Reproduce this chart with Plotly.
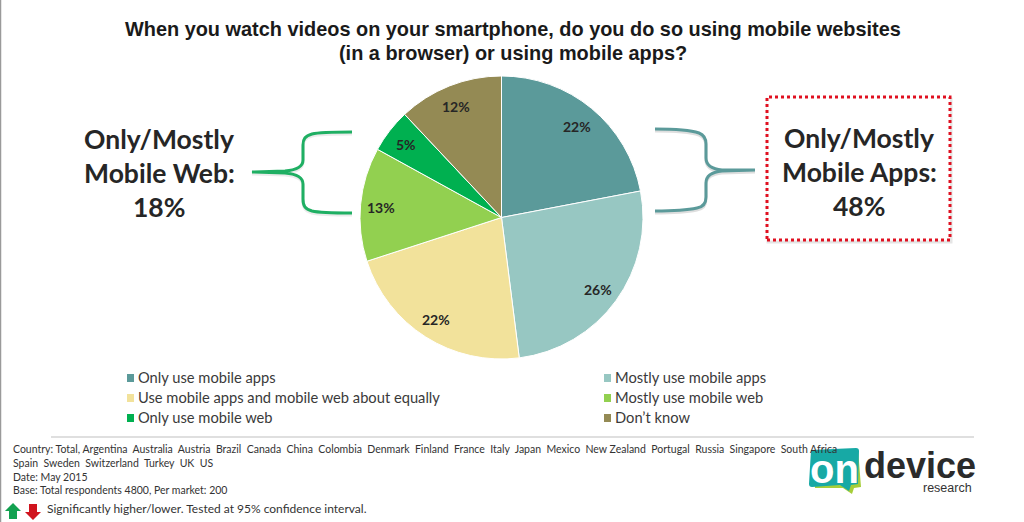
import math
import plotly.graph_objects as go

W, H = 1024, 522
categories = ["Only use mobile apps", "Mostly use mobile apps",
              "Use mobile apps and mobile web about equally", "Mostly use mobile web",
              "Only use mobile web", "Don’t know"]
values = [22, 26, 22, 13, 5, 12]
colors = ["#5B9A9A", "#97C7C2", "#F2E29B", "#92D050", "#00B050", "#948A54"]
title_lines = ["When you watch videos on your smartphone, do you do so using mobile websites",
               "(in a browser) or using mobile apps?"]
left_call = ["Only/Mostly", "Mobile Web:", "18%"]
right_call = ["Only/Mostly", "Mobile Apps:", "48%"]
NB = "\u00a0\u00a0"
countries = ["Argentina", "Australia", "Austria", "Brazil", "Canada", "China", "Colombia", "Denmark",
             "Finland", "France", "Italy", "Japan", "Mexico", "New Zealand", "Portugal", "Russia",
             "Singapore", "South Africa"]
countries2 = ["Spain", "Sweden", "Switzerland", "Turkey", "UK", "US"]
footer = ["Country: Total, " + NB.join(countries), NB.join(countries2), "Date: May 2015",
          "Base: Total respondents 4800, Per market: 200"]
sig_note = "Significantly higher/lower. Tested at 95% confidence interval."


def fx(px): return px / W
def fy(py): return 1 - py / H


def path(d, dy=0):
    out, is_x = [], True
    for tok in d.split():
        if tok.isalpha():
            out.append(tok)
        else:
            v = float(tok)
            out.append(f"{fx(v):.5f}" if is_x else f"{fy(v + dy):.5f}")
            is_x = not is_x
    return " ".join(out)


def pshape(d, color=None, width=0, fill=None, dy=0):
    s = dict(type="path", xref="paper", yref="paper", path=path(d, dy), line=dict(width=width))
    if color: s["line"]["color"] = color
    if fill: s["fillcolor"] = fill
    return s


def text(x, y, t, size, color="#262626", family="Lato", anchor="center", bold=False):
    return dict(x=fx(x), y=fy(y), xref="paper", yref="paper", text=f"<b>{t}</b>" if bold else t,
                showarrow=False, xanchor=anchor, yanchor="middle",
                font=dict(size=size, color=color, family=family))


CX, CY, R = 501.5, 217.5, 141.5
fig = go.Figure(go.Pie(
    labels=categories, values=values, sort=False, direction="clockwise", rotation=0,
    marker=dict(colors=colors, line=dict(color="white", width=1)),
    textinfo="none",
    domain=dict(x=[fx(CX - R), fx(CX + R)], y=[fy(CY + R), fy(CY - R)]), hoverinfo="label+percent",
))

shapes = []
shapes.append(dict(type="line", xref="paper", yref="paper", x0=fx(0.5), x1=fx(0.5), y0=0, y1=1,
                   line=dict(color="#9a9a9a", width=1.5)))
shapes.append(dict(type="line", xref="paper", yref="paper", x0=fx(51), x1=fx(974), y0=fy(437), y1=fy(437),
                   line=dict(color="#d4d4d4", width=1.5)))
right = ("M 655 129 C 675 129 690 130 699 133 C 704 135 706 138 706 144 L 706 158 "
         "C 706 166 712 169 722 170 L 755 170 L 722 171 C 712 172 706 175 706 183 L 706 197 "
         "C 706 204 703 207 697 208 C 688 210 672 211 655 211")
left = ("M 352 132 C 335 132 320 132 312 134 C 305 136 303 139 303 145 L 303 160 "
        "C 303 167 297 170 285 171 L 252 172 L 285 173 C 297 174 303 177 303 184 L 303 199 "
        "C 303 206 305 209 312 211 C 320 213 335 213 352 213")
shapes.append(pshape(right, "rgba(0,0,0,0.13)", 3, dy=2))
shapes.append(pshape(left, "rgba(0,0,0,0.08)", 3, dy=2))
shapes.append(pshape(right, "#5B9A9A", 3))
shapes.append(pshape(left, "#1FAF63", 3))
shapes.append(dict(type="rect", xref="paper", yref="paper", x0=fx(768), x1=fx(951), y0=fy(242), y1=fy(99),
                   line=dict(color="rgba(0,0,0,0.10)", width=3)))
shapes.append(dict(type="rect", xref="paper", yref="paper", x0=fx(767), x1=fx(950), y0=fy(240), y1=fy(97),
                   fillcolor="white", line=dict(color="#E01020", width=3, dash="dot")))
shapes.append(pshape("M 13 503 L 21 511 L 17 511 L 17 519 L 9 519 L 9 511 L 5 511 Z", fill="#12A150"))
shapes.append(pshape("M 29 504 L 37 504 L 37 512 L 41 512 L 33 520 L 25 512 L 29 512 Z", fill="#D0141E"))
shapes.append(pshape("M 812 451 L 858 449 L 861 487 L 854 488 L 852 494 L 843 488 L 815 488 Z", fill="#A6CE39"))
shapes.append(pshape("M 811 450 L 856 448 Q 859 448 859 451 L 858 484 L 851 485 L 849 491 L 840 485 "
                     "L 812 487 Q 809 487 809 484 Z", fill="#17A9A5"))

annotations = []
annotations.append(text(513, 29, title_lines[0], 19.9, "#1a1a1a", "Liberation Sans", bold=True))
annotations.append(text(513, 53, title_lines[1], 19.9, "#1a1a1a", "Liberation Sans", bold=True))
for i, t in enumerate(left_call):
    annotations.append(text(159, 139 + 34 * i, t, 26.5, bold=True))
for i, t in enumerate(right_call):
    annotations.append(text(859, 138 + 34 * i, t, 26.5, bold=True))

# slice labels, placed from the cumulative values
cum = 0
total = sum(values)
for v in values:
    ang = 2 * math.pi * (cum + v / 2) / total
    cum += v
    annotations.append(text(CX + 120 * math.sin(ang) - 1, CY - 120 * math.cos(ang) + 1, f"{v}%", 14, bold=True))

# two-column legend
for i, (c, col) in enumerate(zip(categories, colors)):
    lx = 127 if i % 2 == 0 else 604
    ly = 378 + 20 * (i // 2)
    shapes.append(dict(type="rect", xref="paper", yref="paper", x0=fx(lx), x1=fx(lx + 7),
                       y0=fy(ly + 4), y1=fy(ly - 4), fillcolor=col, line=dict(width=0)))
    annotations.append(text(lx + 9, ly - 1, c, 14.7, "#3a3a3a", "Lato", "left"))

for i, t in enumerate(footer):
    annotations.append(text(10.5, [449, 463, 477, 490][i], t, 10.5, "#333333", "Lato", "left"))
annotations.append(text(45, 508, sig_note, 12, "#333333", "Lato", "left"))
annotations.append(text(834, 469, "on", 40, "white", "Liberation Sans", bold=True))
annotations.append(text(920, 465, "device", 36, "#2b2b2b", "Liberation Sans", bold=True))
annotations.append(text(974, 488, "research", 12.5, "#333333", "Liberation Sans", "right"))

fig.update_layout(
    width=W, height=H, margin=dict(l=0, r=0, t=0, b=0), paper_bgcolor="white",
    showlegend=False, shapes=shapes, annotations=annotations,
)
fig.write_html("out.html", config=dict(displayModeBar=False),
               post_script="document.body.style.margin='0';")
